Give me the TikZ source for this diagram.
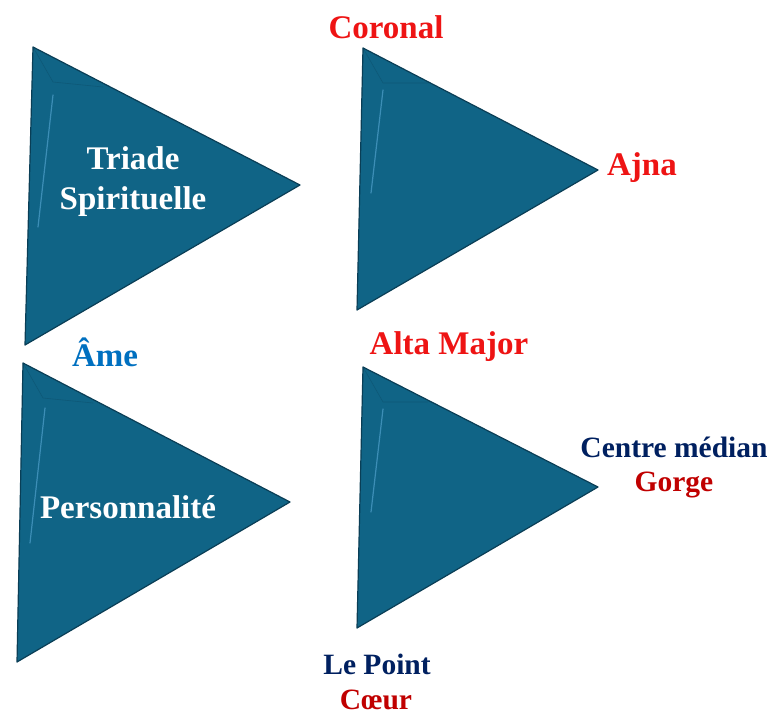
\documentclass[tikz,border=0pt]{standalone}
\usepackage{fontspec}
\setmainfont{Liberation Serif}
\usepackage{tikz}
\usetikzlibrary{calc}

\definecolor{prismblue}{RGB}{16,100,134}
\definecolor{prismedge}{RGB}{10,62,86}
\definecolor{prismglint}{RGB}{90,170,215}
\definecolor{labelred}{RGB}{238,20,20}
\definecolor{labeldarkred}{RGB}{192,0,0}
\definecolor{labelnavy}{RGB}{0,32,96}
\definecolor{labelblue}{RGB}{0,112,192}

\tikzset{
	prism/.style={fill=prismblue,draw=prismedge,line width=1.2pt,line join=round},
	glint/.style={prismglint,line width=1.2pt,opacity=0.6,line cap=round},
	bevel/.style={prismedge,line width=0.6pt,opacity=0.3},
	bigtext/.style={font=\fontsize{33}{36}\selectfont\bfseries,inner sep=0pt,align=center},
	smalltext/.style={font=\fontsize{29.5}{36}\selectfont\bfseries,inner sep=0pt,align=center}
}

\begin{document}
\begin{tikzpicture}[x=1pt,y=-1pt]
			% PICTURE FRAME
			\useasboundingbox (0,0) rectangle (771,715);
			
			% PRISM CORNERS
			\coordinate (tA) at (33,47);   \coordinate (rA) at (300,185); \coordinate (bA) at (25,345);
			\coordinate (tB) at (363,48);  \coordinate (rB) at (598,170); \coordinate (bB) at (357,310);
			\coordinate (tC) at (23,363);  \coordinate (rC) at (290,502); \coordinate (bC) at (17,662);
			\coordinate (tD) at (363,367); \coordinate (rD) at (598,487); \coordinate (bD) at (357,628);
			
			% PRISMS
			\filldraw[prism] (tA) -- (rA) -- (bA) -- cycle;
			\filldraw[prism] (tB) -- (rB) -- (bB) -- cycle;
			\filldraw[prism] (tC) -- (rC) -- (bC) -- cycle;
			\filldraw[prism] (tD) -- (rD) -- (bD) -- cycle;
			
			% BEVEL AT THE TOP CORNER
			\draw[bevel] (tA) -- ($(tA)+(20,35)$) -- ($(tA)+(70,40)$);
			\draw[bevel] (tB) -- ($(tB)+(20,35)$) -- ($(tB)+(65,35)$);
			\draw[bevel] (tC) -- ($(tC)+(20,35)$) -- ($(tC)+(70,40)$);
			\draw[bevel] (tD) -- ($(tD)+(20,35)$) -- ($(tD)+(65,35)$);
			
			% GLINT ON THE LEFT SIDE
			\draw[glint] ($(tA)+(20,48)$) -- ($(tA)+(5,180)$);
			\draw[glint] ($(tB)+(20,42)$) -- ($(tB)+(8,145)$);
			\draw[glint] ($(tC)+(22,45)$) -- ($(tC)+(7,180)$);
			\draw[glint] ($(tD)+(20,42)$) -- ($(tD)+(8,145)$);
			
			% LABELS INSIDE THE PRISMS
			\node[bigtext,white] (triade) at (133,182) {Triade\\[4pt]Spirituelle};
			\node[bigtext,white] (perso) at (128,507) {Personnalité};
			
			% LABELS ROUND THE PRISMS
			\node[bigtext,labelred] (coronal) at (386,27) {Coronal};
			\node[bigtext,labelred] (ajna) at (642,168) {Ajna};
			\node[bigtext,labelblue] (ame) at (105,352) {Âme};
			\node[bigtext,labelred] (alta) at (449,347) {Alta Major};
			\node[smalltext,labelnavy] (centre) at (674,447) {Centre médian};
			\node[smalltext,labeldarkred] (gorge) at (674,485) {Gorge};
			\node[smalltext,labelnavy] (point) at (377,664) {Le Point};
			\node[smalltext,labeldarkred] (coeur) at (376,700) {Cœur};
\end{tikzpicture}
\end{document}
